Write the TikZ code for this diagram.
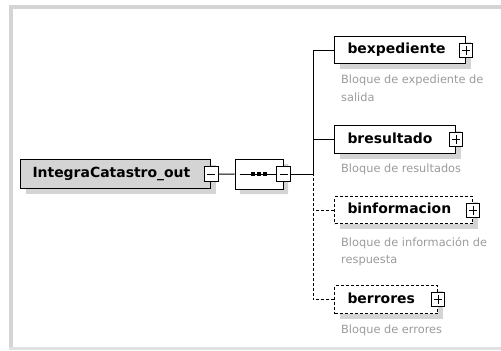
\documentclass[tikz,border=0pt]{standalone}
\usepackage{fontspec}
\setmainfont{DejaVu Sans}
\usetikzlibrary{shapes.misc,shadows}
\definecolor{framegray}{RGB}{212,212,212}
\definecolor{boxgray}{RGB}{212,212,212}
\definecolor{shadowgray}{RGB}{212,212,212}
\definecolor{descgray}{RGB}{155,155,155}
\begin{document}
\begin{tikzpicture}[x=1bp,y=-1bp,
  shadowed/.style={drop shadow={shadow xshift=5bp,shadow yshift=-5bp,fill=shadowgray,opacity=1}},
  elem/.style={draw=black, line width=1bp, fill=white, rectangle, inner ysep=0pt, inner xsep=13bp,
    anchor=north west, shadowed, align=left, font=\fontsize{14}{16}\selectfont\bfseries,
    text height=10bp, text depth=3bp},
  optelem/.style={elem, dash pattern=on 3bp off 2bp},
  desc/.style={anchor=north west, inner sep=0pt, align=left, text=descgray,
    font=\fontsize{11.4}{17.5}\selectfont},
  pmbox/.style={draw=black, line width=1bp, fill=white, rectangle, inner sep=0pt,
    minimum width=13bp, minimum height=14bp},
  minusbox/.style={pmbox, path picture={
    \draw[line width=1bp] ([xshift=3bp]path picture bounding box.west) -- ([xshift=-3bp]path picture bounding box.east);}},
  plusbox/.style={pmbox, path picture={
    \draw[line width=1bp] ([xshift=2.5bp]path picture bounding box.west) -- ([xshift=-2.5bp]path picture bounding box.east);
    \draw[line width=1bp] ([yshift=-2.5bp]path picture bounding box.north) -- ([yshift=2.5bp]path picture bounding box.south);}},
  conn/.style={line width=1bp},
  optconn/.style={line width=1bp, dash pattern=on 3bp off 2bp}
]
\useasboundingbox (0,0) rectangle (501,350);
% frame
\fill[framegray] (9,5) rectangle (501,9);
\fill[framegray] (9,5) rectangle (13,350);
\fill[framegray!70] (9,347) rectangle (501,350);

% root element
\node[elem, fill=boxgray, minimum width=190bp, minimum height=29bp, text width=166bp, inner xsep=12bp] (root) at (20,159) {IntegraCatastro\_out};
\node[minusbox, minimum width=14bp, minimum height=15bp] (rootpm) at (root.east) {};

% sequence compositor
\node[chamfered rectangle, chamfered rectangle xsep=8bp, chamfered rectangle ysep=7bp,
  draw=black, line width=1bp, fill=white, shadowed, minimum width=48bp, minimum height=30bp, inner sep=0pt]
  (seq) at (259,174) {};
\draw[line width=1bp] ([xshift=5bp]seq.west) -- ([xshift=-5bp]seq.east);
\foreach \dx in {-6,0,6}
  \fill ([xshift=\dx bp-1.75bp, yshift=-1.75bp]seq.center) rectangle ([xshift=\dx bp+1.75bp, yshift=1.75bp]seq.center);
\node[minusbox, minimum width=14bp, minimum height=15bp] (seqpm) at (seq.east) {};
\coordinate (trunk) at (313,174);

\draw[conn] (rootpm.east) -- (seq.west);
\draw[conn] (seqpm.east) -- (trunk);

% children
\node[elem, minimum width=131bp, minimum height=27bp, text width=105bp] (bexp) at (334,36) {bexpediente};
\node[plusbox] (bexppm) at (bexp.east) {};
\node[desc] (bexpd) at (341,75) {Bloque de expediente de\\salida};

\node[elem, minimum width=121bp, minimum height=28bp, text width=95bp] (bres) at (334,125) {bresultado};
\node[plusbox] (brespm) at (bres.east) {};
\node[desc] (bresd) at (341,164) {Bloque de resultados};

\node[optelem, minimum width=138bp, minimum height=27bp, text width=112bp] (binf) at (334,196) {binformacion};
\node[plusbox] (binfpm) at (binf.east) {};
\node[desc] (binfd) at (341,237) {Bloque de información de\\respuesta};

\node[optelem, minimum width=103bp, minimum height=28bp, text width=77bp] (berr) at (334,285) {berrores};
\node[plusbox] (berrpm) at (berr.east) {};
\node[desc] (berrd) at (341,325) {Bloque de errores};

% connectors
\draw[conn] (bexp.west) -| (trunk);
\draw[conn] (bres.west) -| (trunk);
\draw[optconn] (binf.west) -| (trunk);
\draw[optconn] (berr.west) -| (trunk);
\end{tikzpicture}
\end{document}
